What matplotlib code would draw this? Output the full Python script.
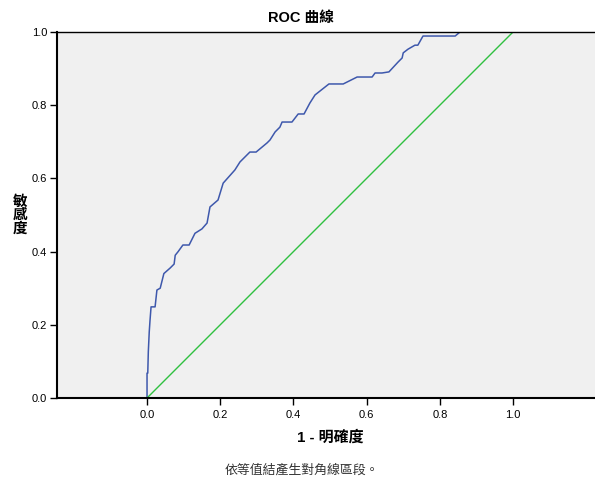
import numpy as np
import matplotlib.pyplot as plt

plt.rcParams['font.family'] = ['Liberation Sans', 'Noto Sans CJK TC']

# ROC curve
fpr = [0.0, 0.0, 0.002, 0.0035, 0.006, 0.008, 0.011, 0.022, 0.027, 0.036, 0.046,
       0.063, 0.074, 0.077, 0.085, 0.098, 0.115, 0.131, 0.150, 0.164, 0.172,
       0.194, 0.208, 0.240, 0.254, 0.281, 0.298, 0.328, 0.336, 0.350, 0.363,
       0.369, 0.396, 0.413, 0.429, 0.445, 0.459, 0.497, 0.536, 0.574, 0.615,
       0.623, 0.642, 0.661, 0.686, 0.697, 0.700, 0.713, 0.732, 0.740, 0.754,
       0.842, 0.855, 1.0]
tpr = [0.0, 0.068, 0.068, 0.126, 0.18, 0.21, 0.249, 0.249, 0.295, 0.30, 0.34,
       0.355, 0.366, 0.39, 0.40, 0.418, 0.418, 0.45, 0.462, 0.478, 0.522,
       0.541, 0.587, 0.623, 0.645, 0.672, 0.672, 0.697, 0.705, 0.727, 0.74,
       0.754, 0.754, 0.776, 0.776, 0.806, 0.828, 0.858, 0.858, 0.877, 0.877,
       0.888, 0.888, 0.891, 0.918, 0.929, 0.943, 0.953, 0.964, 0.964, 0.989,
       0.989, 1.0, 1.0]
ref = [0.0, 1.0]

fig = plt.figure(figsize=(5.95, 4.8), dpi=100)
ax = fig.add_axes([57/595, 1-398/480, 1-57/595, 366/480])
ax.set_facecolor('#f0f0f0')

ax.plot(fpr, tpr, color='#3e58ac', lw=1.1)
ax.plot(ref, ref, color='#2fc040', lw=1.0)

ax.set_xlim(-0.246, 1.224)
ax.set_ylim(0, 1)
ax.set_xticks(np.arange(0, 1.01, 0.2))
ax.set_yticks(np.arange(0, 1.01, 0.2))
ax.xaxis.set_major_formatter(lambda v, p: f'{v:.1f}')
ax.yaxis.set_major_formatter(lambda v, p: f'{v:.1f}')
ax.tick_params(direction='out', length=5, width=1, labelsize=8, colors='black', pad=2)
ax.tick_params(axis='x', pad=4)

ax.spines['right'].set_visible(False)
ax.spines['left'].set_linewidth(1.5)
ax.spines['bottom'].set_linewidth(1.5)
ax.spines['top'].set_linewidth(1.0)

fig.text(301/595, 1-18/480, 'ROC 曲線', ha='center', va='center', fontsize=10.5, fontweight='bold')
fig.text(330/595, 1-437/480, '1 - 明確度', ha='center', va='center', fontsize=10.8, fontweight='bold')
fig.text(20/595, 1-215/480, '敏\n感\n度', ha='center', va='center', fontsize=10.5,
         fontweight='bold', linespacing=0.95)
fig.text(302/595, 1-470/480, '依等值結產生對角線區段。', ha='center', va='center',
         fontsize=9.3, color='#333333')

fig.savefig('out.png', dpi=100)
